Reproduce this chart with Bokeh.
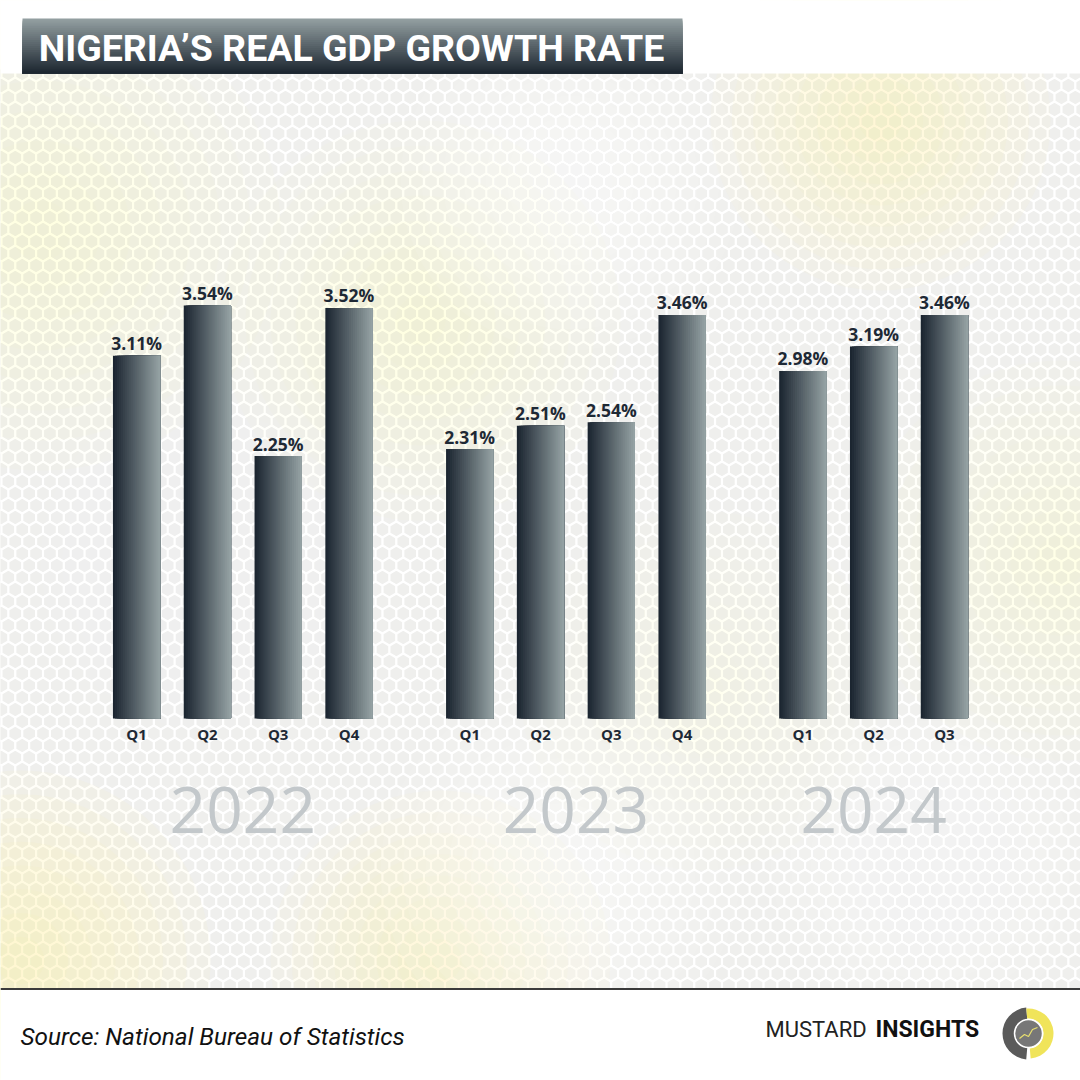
import numpy as np
from bokeh.plotting import figure
from bokeh.models import FactorRange, Range1d, ColumnDataSource
from bokeh.transform import dodge
from bokeh.core.properties import value
from bokeh.embed import file_html
from bokeh.resources import INLINE

# ---------------- data ----------------
title_text = "NIGERIA’S REAL GDP GROWTH RATE"
years = ["2022", "2023", "2024"]
quarters_2022 = ["Q1", "Q2", "Q3", "Q4"]
quarters_2023 = ["Q1", "Q2", "Q3", "Q4"]
quarters_2024 = ["Q1", "Q2", "Q3"]
growth_2022 = [3.11, 3.54, 2.25, 3.52]
growth_2023 = [2.31, 2.51, 2.54, 3.46]
growth_2024 = [2.98, 3.19, 3.46]
source_text = "Source: National Bureau of Statistics"
brand_light = "MUSTARD"
brand_bold = "INSIGHTS"

factors, vals, qlabels = [], [], []
for y, qs, vs in zip(years, [quarters_2022, quarters_2023, quarters_2024],
                     [growth_2022, growth_2023, growth_2024]):
    for q, v in zip(qs, vs):
        factors.append((y, q))
        vals.append(v)
        qlabels.append(q)
src = ColumnDataSource(dict(x=factors, v=vals, q=qlabels,
                            lab=[f"{v:.2f}%" for v in vals]))

# ---------------- figure ----------------
W = H = 1080
GP = 0.705                    # group padding
SPAN = len(factors) + (len(years) - 1) * GP
RP = 0.2292                   # range padding (percent)
X0 = -RP * SPAN / 2
X1 = SPAN + RP * SPAN / 2
UPX = W / (X1 - X0)           # screen px per synthetic unit

def X(px):
    """page-pixel x -> synthetic x coordinate (decoration only)"""
    return X0 + np.asarray(px, dtype=float) / UPX

PX_PER_UNIT = 116.65
BASE = 718.0  # page pixel of the zero line
p = figure(width=W, height=H, output_backend="svg", toolbar_location=None,
           x_range=FactorRange(*factors, group_padding=GP, range_padding=RP),
           y_range=Range1d((BASE - H) / PX_PER_UNIT, BASE / PX_PER_UNIT),
           min_border=0, outline_line_color=None)
p.axis.visible = False
p.grid.visible = False
p.background_fill_color = "white"
p.border_fill_color = "white"
p.extra_y_ranges = {"px": Range1d(H, 0)}
PX = dict(y_range_name="px")

# ---------------- background ----------------
p.quad(left=[X(0)], right=[X(W)], top=[73], bottom=[988], fill_color="#f2f2f0",
       line_color=None, **PX)
r = 8.0
hx, hy = [], []
rows = np.arange(73, 995, 1.5 * r)
for i, yy in enumerate(rows):
    off = 0 if i % 2 == 0 else np.sqrt(3) * r / 2
    xs = np.arange(-6 + off, W + 10, np.sqrt(3) * r)
    hx.extend(X(xs))
    hy.extend([yy] * len(xs))
p.scatter(hx, hy, marker="hex", size=15.5, angle=np.pi / 6, fill_color="#efefed",
          line_color="white", line_width=1.8, **PX)

# soft glows
glows = [
    (40, 230, 240, "#fff6b0", 0.055),
    (420, 320, 200, "#fff8b8", 0.06),
    (880, 120, 170, "#fff6a8", 0.065),
    (20, 960, 190, "#fff4a0", 0.075),
    (440, 960, 170, "#fff6a8", 0.065),
    (700, 690, 180, "#fffbd0", 0.05),
    (1060, 560, 200, "#fff8c0", 0.045),
    (570, 180, 170, "#ffffff", 0.09),
    (560, 870, 180, "#ffffff", 0.09),
    (210, 560, 170, "#ffffff", 0.06),
    (930, 860, 160, "#ffffff", 0.07),
]
for gx, gy, gr, gc, ga in glows:
    for k in range(8):
        rr = gr * (1 - k / 8)
        p.circle(x=[X(gx)], y=[gy], radius=rr / UPX, fill_color=gc, fill_alpha=ga,
                 line_color=None, **PX)
# keep glows inside the patterned band
p.quad(left=[X(0)], right=[X(W)], top=[0], bottom=[73], fill_color="white", line_color=None, **PX)
p.quad(left=[X(0)], right=[X(W)], top=[988], bottom=[H], fill_color="white", line_color=None, **PX)
p.line(X([0, W]), [988.5, 988.5], line_color="#3b3b3b", line_width=2.2, **PX)

# ---------------- bars (horizontal gradient via overlapping slices) ----------------
def lerp(c1, c2, t):
    a = [int(c1[i:i + 2], 16) for i in (1, 3, 5)]
    b = [int(c2[i:i + 2], 16) for i in (1, 3, 5)]
    return "#%02x%02x%02x" % tuple(int(round(a[j] + (b[j] - a[j]) * t)) for j in range(3))

BW = 0.668
N = 24
for i in range(N):
    left = -BW / 2 + i * BW / N
    right = BW / 2
    col = lerp("#1c2631", "#94a1a3", i / (N - 1))
    p.vbar(x=dodge("x", (left + right) / 2, range=p.x_range), top="v", bottom=0,
           width=right - left, source=src, fill_color=col, line_color=None)

p.text(x="x", y="v", text="lab", source=src, text_align="center",
       text_baseline="alphabetic", y_offset=-12.5, text_font=value("Open Sans"),
       text_font_style="bold", text_font_size="17.5px", text_color="#1e2935")
p.text(x="x", y=0, text="q", source=src, text_align="center",
       text_baseline="alphabetic", y_offset=15.5, text_font=value("Open Sans"),
       text_font_style="bold", text_font_size="15px", text_color="#1e2935")
p.text(x=years, y=[0, 0, 0], text=years, text_align="center",
       text_baseline="alphabetic", y_offset=91, text_font=value("Open Sans"),
       text_font_size="64px", text_color="#c3c8cb")

# ---------------- title banner (vertical gradient) ----------------
NB = 28
edges = np.linspace(18, 73, NB + 1)
for i in range(NB):
    p.quad(left=[X(22)], right=[X(682)], top=[edges[i]], bottom=[73],
           fill_color=lerp("#929ea0", "#1d2731", i / (NB - 1)), line_color=None, **PX)
p.text(x=[X(351)], y=[47], text=[title_text], text_align="center", text_baseline="alphabetic",
       text_font=value("Roboto"), text_font_style="bold",
       text_font_size="37.5px", text_color="white", **PX)

# ---------------- footer ----------------
p.text(x=[X(20)], y=[1036], text=[source_text], text_align="left", text_baseline="alphabetic",
       text_font=value("Roboto"), text_font_style="italic",
       text_font_size="24.3px", text_color="#111111", **PX)
p.text(x=[X(765)], y=[1029], text=[brand_light], text_align="left", text_baseline="alphabetic",
       text_font=value("Roboto"), text_font_size="22px",
       text_color="#222222", **PX)
p.text(x=[X(875)], y=[1029], text=[brand_bold], text_align="left", text_baseline="alphabetic",
       text_font=value("Roboto"), text_font_style="bold",
       text_font_size="23px", text_color="#111111", **PX)

# logo
p.annular_wedge(x=[X(1028)], y=[1033], inner_radius=13 / UPX, outer_radius=26 / UPX,
                start_angle=np.deg2rad(95), end_angle=np.deg2rad(265),
                fill_color="#5a5a5a", line_color=None, **PX)
p.annular_wedge(x=[X(1028)], y=[1033], inner_radius=15 / UPX, outer_radius=25 / UPX,
                start_angle=np.deg2rad(-85), end_angle=np.deg2rad(95),
                fill_color="#f0e45a", line_color=None, **PX)
p.circle(x=[X(1028)], y=[1033], radius=14 / UPX, fill_color="#777777", line_color="white",
         line_width=1.5, **PX)
p.line(X([1019, 1024, 1028, 1032, 1037]), [1038, 1034, 1036, 1029, 1027],
       line_color="#e8e070", line_width=1.2, **PX)

open("out.html", "w").write(file_html(p, INLINE))
